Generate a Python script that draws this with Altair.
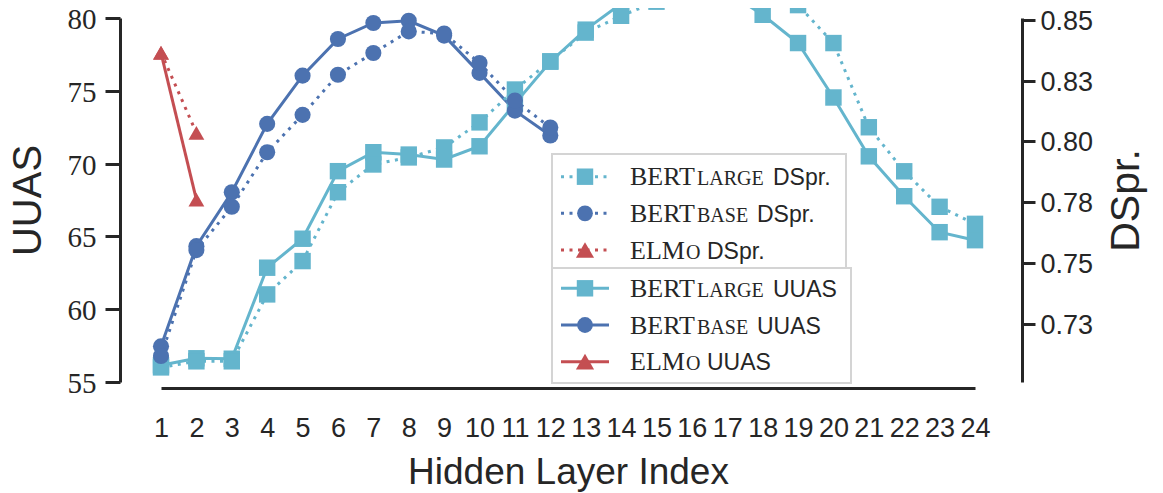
import altair as alt
import pandas as pd

# ---------------- data ----------------
layers = list(range(1, 25))
series_names = ["BERT large", "BERT base", "ELMo"]

bert_large_uuas = [56.15, 56.63, 56.6, 62.85, 64.84, 69.48, 70.78, 70.62, 70.28, 71.19,
                   74.12, 77.0, 79.2, 80.98, 81.8, 82.3, 81.8, 80.22, 78.28, 74.54,
                   70.5, 67.76, 65.29, 64.74]
bert_large_dspr = [0.7071, 0.7096, 0.7096, 0.7371, 0.7508, 0.7791, 0.7905, 0.7934, 0.7975, 0.8078,
                   0.8213, 0.8329, 0.8447, 0.8516, 0.8574, 0.866, 0.867, 0.864, 0.856, 0.8404,
                   0.8058, 0.7877, 0.7731, 0.7661]
bert_base_uuas = [57.45, 64.33, 68.03, 72.73, 76.04, 78.56, 79.66, 79.81, 78.79, 76.23, 73.64, 71.93]
bert_base_dspr = [0.7118, 0.7553, 0.7731, 0.7955, 0.8109, 0.8274, 0.8363, 0.8452, 0.8443, 0.8322,
                  0.8168, 0.8057]
elmo_uuas = [77.6, 67.53]
elmo_dspr = [0.8365, 0.8035]

uuas_ticks = [55, 60, 65, 70, 75, 80]
dspr_ticks = [0.725, 0.75, 0.775, 0.8, 0.825, 0.85]

colors = ["#64B5CD", "#4C72B0", "#C44E52"]
shapes = ["square", "circle", "triangle-up"]
sizes = [270, 250, 330]

INK = "#262626"
SANS = "Liberation Sans, Arial, sans-serif"
SERIF = "Liberation Serif, Times New Roman, serif"


def frame(series, values):
    return pd.DataFrame({"layer": layers[:len(values)], "value": values, "series": series})


uuas_df = pd.concat([frame("BERT large", bert_large_uuas),
                     frame("BERT base", bert_base_uuas),
                     frame("ELMo", elmo_uuas)], ignore_index=True)
dspr_df = pd.concat([frame("BERT large", bert_large_dspr),
                     frame("BERT base", bert_base_dspr),
                     frame("ELMo", elmo_dspr)], ignore_index=True)

color_enc = alt.Color("series:N", scale=alt.Scale(domain=series_names, range=colors), legend=None)
shape_enc = alt.Shape("series:N", scale=alt.Scale(domain=series_names, range=shapes), legend=None)
size_enc = alt.Size("series:N", scale=alt.Scale(domain=series_names, range=sizes), legend=None)

x_enc = alt.X(
    "layer:Q",
    scale=alt.Scale(domain=[1, 24], nice=False, zero=False),
    axis=alt.Axis(
        values=layers, format="d", title="Hidden Layer Index", grid=False,
        ticks=False, labelPadding=27, offset=6, domainWidth=3, domainColor=INK,
        labelFont=SANS, labelFontSize=27, labelColor=INK, labelFlush=False,
        labelOverlap=False, titleFont=SANS, titleFontSize=37, titleFontWeight="normal",
        titleColor=INK, titlePadding=13,
    ),
)

y_left = alt.Y(
    "value:Q",
    scale=alt.Scale(domain=[55, 80], nice=False, zero=False),
    axis=alt.Axis(
        orient="left", values=uuas_ticks, format="d", title="UUAS", grid=False,
        offset=41, tickSize=15, tickWidth=3, tickColor=INK, domainWidth=3, domainColor=INK,
        labelFont=SERIF, labelFontSize=29, labelColor=INK, labelPadding=9, labelFlush=False,
        labelOverlap=False, labelOffset=1.5, titleFont=SANS, titleFontSize=40,
        titleFontWeight="normal", titleColor=INK, titlePadding=19,
    ),
)

y_right = alt.Y(
    "value:Q",
    scale=alt.Scale(domain=[0.7011, 0.8507], nice=False, zero=False),
    axis=alt.Axis(
        orient="right", values=dspr_ticks, labelExpr="format(datum.value + 0.000001, '.2f')",
        title="DSpr.", grid=False, offset=47, tickSize=13, tickWidth=3, tickColor=INK,
        domainWidth=3, domainColor=INK, labelFont=SANS, labelFontSize=27, labelColor=INK,
        labelPadding=5, labelFlush=False, labelOverlap=False, labelOffset=1.5,
        titleFont=SANS, titleFontSize=41, titleFontWeight="normal", titleColor=INK,
        titlePadding=14, titleAngle=270, titleBaseline="top",
    ),
)

uuas_lines = alt.Chart(uuas_df).mark_line(strokeWidth=3).encode(
    x=x_enc, y=y_left, color=color_enc, detail="series:N")
uuas_points = alt.Chart(uuas_df).mark_point(filled=True, opacity=1).encode(
    x=x_enc, y=y_left, color=color_enc, shape=shape_enc, size=size_enc)
uuas_layer = alt.layer(uuas_lines, uuas_points)

dspr_lines = alt.Chart(dspr_df).mark_line(strokeWidth=3, strokeDash=[3, 5.5]).encode(
    x=x_enc, y=y_right, color=color_enc, detail="series:N")
dspr_points = alt.Chart(dspr_df).mark_point(filled=True, opacity=1).encode(
    x=x_enc, y=y_right, color=color_enc, shape=shape_enc, size=size_enc)
dspr_layer = alt.layer(dspr_lines, dspr_points)

# ---------------- hand-made legend (two framed boxes) ----------------
PX0, PY0 = 161, 18  # page position of the plot origin


def lx(v):
    return v - PX0


def ly(v):
    return v - PY0


base = alt.Chart(pd.DataFrame({"k": [0]}))
legend_layers = []
for (x1, x2, y1, y2) in [(552, 846, 154, 268), (552, 851, 268, 383)]:
    legend_layers.append(
        base.mark_rect(fill="white", fillOpacity=0.85, stroke="#d4d4d4", strokeWidth=2).encode(
            x=alt.value(lx(x1)), x2=alt.value(lx(x2)), y=alt.value(ly(y1)), y2=alt.value(ly(y2)))
    )

legend_rows = [
    # series idx, dotted, main, small caps, metric, small x, metric x, row centre y (page)
    (0, True, "BERT", "LARGE", "DSpr.", 697, 773, 176.7),
    (1, True, "BERT", "BASE", "DSpr.", 697, 757, 213.3),
    (2, True, "ELM", "O", "DSpr.", 686, 707, 250.0),
    (0, False, "BERT", "LARGE", "UUAS", 697, 773, 288.3),
    (1, False, "BERT", "BASE", "UUAS", 697, 757, 325.0),
    (2, False, "ELM", "O", "UUAS", 686, 707, 361.7),
]
for idx, dotted, main, small, metric, sx, mx, cy in legend_rows:
    rule_kw = dict(strokeWidth=3, color=colors[idx])
    if dotted:
        rule_kw["strokeDash"] = [3, 5.5]
    legend_layers.append(
        base.mark_rule(**rule_kw).encode(
            x=alt.value(lx(561)), x2=alt.value(lx(609)), y=alt.value(ly(cy)))
    )
    legend_layers.append(
        base.mark_point(filled=True, opacity=1, shape=shapes[idx], size=sizes[idx],
                        color=colors[idx]).encode(x=alt.value(lx(585)), y=alt.value(ly(cy)))
    )
    by = ly(cy) + 8.5
    legend_layers.append(
        base.mark_text(text=main, font=SERIF, fontSize=26, color=INK, align="left",
                       baseline="alphabetic").encode(x=alt.value(lx(630)), y=alt.value(by))
    )
    legend_layers.append(
        base.mark_text(text=small, font=SERIF, fontSize=20, color=INK, align="left",
                       baseline="alphabetic").encode(x=alt.value(lx(sx)), y=alt.value(by))
    )
    legend_layers.append(
        base.mark_text(text=metric, font=SANS, fontSize=23, color=INK, align="left",
                       baseline="alphabetic").encode(x=alt.value(lx(mx)), y=alt.value(by))
    )

chart = alt.layer(uuas_layer, dspr_layer, *legend_layers).resolve_scale(
    y="independent"
).properties(
    width=814,
    height=364,
    autosize=alt.AutoSizeParams(type="none"),
    padding={"left": 153, "top": 10, "right": 180, "bottom": 110},
    background="white",
).configure_view(
    stroke=None
)

chart.save("out.html", embed_options={"renderer": "svg", "actions": False})
